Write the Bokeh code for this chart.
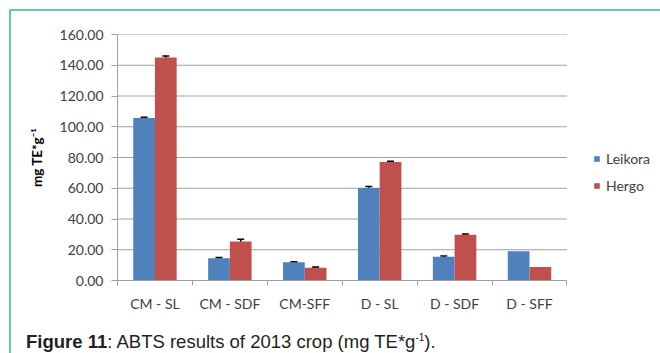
from bokeh.plotting import figure
from bokeh.layouts import column
from bokeh.models import (ColumnDataSource, Range1d, FixedTicker, NumeralTickFormatter,
                          Whisker, TeeHead, Legend, LegendItem, Div)
from bokeh.transform import dodge
from bokeh.embed import file_html
from bokeh.resources import INLINE

# ABTS antioxidant capacity, 2013 crop (mg TE per g)
categories = ["CM - SL", "CM - SDF", "CM-SFF", "D - SL", "D - SDF", "D - SFF"]
leikora = [105.7, 14.4, 11.8, 60.2, 15.4, 19.1]
hergo = [145.1, 25.4, 8.3, 77.0, 29.8, 8.7]
leikora_err = [0.5, 0.5, 0.4, 1.0, 0.6, 0.0]
hergo_err = [0.9, 1.5, 0.4, 0.5, 0.4, 0.0]
y_ticks = [0, 20, 40, 60, 80, 100, 120, 140, 160]

BLUE = "#4f81bd"
RED = "#c0504d"
GRID = "#a0a0a0"
TEXT = "#404040"
FONT = "Lato"
SIZE = "14px"

n = len(categories)
centers = [i + 0.5 for i in range(n)]
src = ColumnDataSource(dict(x=centers, cat=categories, leikora=leikora, hergo=hergo))

# the frame runs past the last category so the legend can sit to the right of the bars
p = figure(width=649, height=310, x_range=Range1d(0, n * 1.197), y_range=Range1d(0, 160),
           output_backend="svg", toolbar_location=None,
           min_border_left=106, min_border_right=5, min_border_top=23, min_border_bottom=41)
p.outline_line_color = None
p.background_fill_color = "white"
p.border_fill_color = "white"

# horizontal gridlines limited to the category area
p.xgrid.visible = False
p.ygrid.visible = False
p.segment(x0=[0] * len(y_ticks), x1=[n] * len(y_ticks), y0=y_ticks, y1=y_ticks,
          line_color=GRID, line_width=1)

bw = 0.29
r_l = p.vbar(x=dodge("x", -bw / 2, range=p.x_range), top="leikora", width=bw, source=src,
             fill_color=BLUE, line_color=None)
r_h = p.vbar(x=dodge("x", bw / 2, range=p.x_range), top="hergo", width=bw, source=src,
             fill_color=RED, line_color=None)

# error bars (only where a deviation was reported)
def whisker_for(values, errs, offset):
    idx = [i for i, e in enumerate(errs) if e > 0]
    ws = ColumnDataSource(dict(
        x=[centers[i] for i in idx],
        upper=[values[i] + errs[i] for i in idx],
        lower=[values[i] - errs[i] for i in idx]))
    w = Whisker(base=dodge("x", offset, range=p.x_range), upper="upper", lower="lower", source=ws,
                line_color="black", line_width=1.5,
                upper_head=TeeHead(size=7, line_color="black", line_width=1.5),
                lower_head=TeeHead(size=7, line_color="black", line_width=1.5))
    p.add_layout(w)

whisker_for(leikora, leikora_err, -bw / 2)
whisker_for(hergo, hergo_err, bw / 2)

# x axis: labels at category centres, tick marks on category boundaries
p.xaxis.bounds = (0, n)
p.xaxis.ticker = FixedTicker(ticks=centers, minor_ticks=list(range(n + 1)))
p.xaxis.major_label_overrides = {c: lab for c, lab in zip(centers, categories)}
p.xaxis.major_tick_out = 0
p.xaxis.major_tick_in = 0
p.xaxis.minor_tick_out = 5
p.xaxis.minor_tick_in = 0
p.xaxis.minor_tick_line_color = GRID
p.xaxis.axis_line_color = GRID
p.xaxis.major_label_text_font = FONT
p.xaxis.major_label_text_font_size = SIZE
p.xaxis.major_label_text_color = TEXT
p.xaxis.major_label_standoff = 9

# y axis
p.yaxis.ticker = FixedTicker(ticks=y_ticks)
p.yaxis.formatter = NumeralTickFormatter(format="0.00")
p.yaxis.minor_tick_line_color = None
p.yaxis.major_tick_out = 6
p.yaxis.major_tick_in = 0
p.yaxis.major_tick_line_color = GRID
p.yaxis.axis_line_color = GRID
p.yaxis.major_label_text_font = FONT
p.yaxis.major_label_text_font_size = SIZE
p.yaxis.major_label_text_color = TEXT
p.yaxis.major_label_standoff = 8
p.yaxis.axis_label = "mg TE*g\u207b\u00b9"
p.yaxis.axis_label_text_font = FONT
p.yaxis.axis_label_text_font_style = "bold"
p.yaxis.axis_label_text_font_size = "13.5px"
p.yaxis.axis_label_text_color = "black"
p.yaxis.axis_label_standoff = 12

legend = Legend(items=[LegendItem(label="Leikora", renderers=[r_l]),
                       LegendItem(label="Hergo", renderers=[r_h])],
                location=(476, 85), glyph_width=7, glyph_height=7, label_standoff=6,
                label_height=20, spacing=7, padding=0, margin=0,
                border_line_color=None, background_fill_alpha=0,
                label_text_font=FONT, label_text_font_size=SIZE, label_text_color=TEXT)
p.add_layout(legend)

caption = Div(text='<b>Figure 11</b>: ABTS results of 2013 crop (mg TE*g<sup style="font-size:10px">-1</sup>).',
              width=640, height=32,
              styles={"font-family": "'Liberation Sans', Arial, sans-serif", "font-size": "18.5px",
                      "padding-left": "10px", "padding-top": "3px", "color": "#231f20"})

page = column(p, caption, styles={"border-top": "2px solid #5ec9b4", "border-left": "2px solid #5ec9b4",
                                  "margin-top": "9px", "margin-left": "9px"})

open("out.html", "w").write(file_html(page, INLINE))
